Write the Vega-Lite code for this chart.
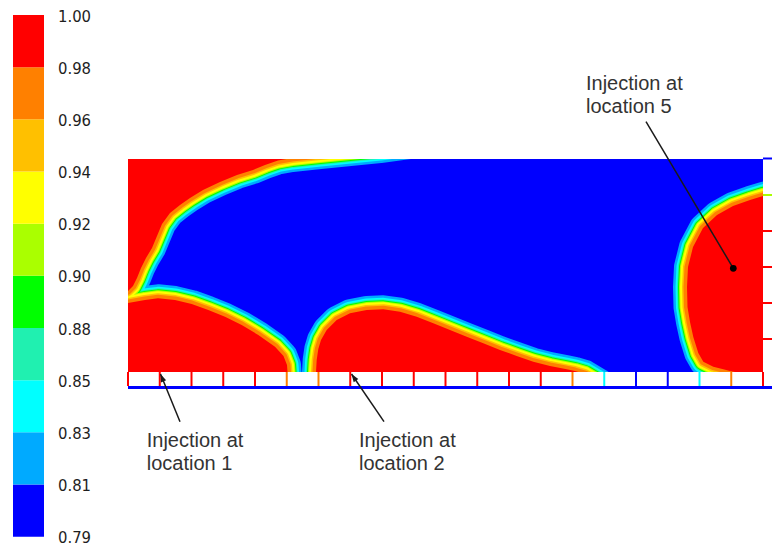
{
  "$schema": "https://vega.github.io/schema/vega-lite/v6.json",
  "padding": 0,
  "background": "white",
  "config": {"view": {"stroke": null}},
  "bounds": "flush",
  "center": true,
  "spacing": 0,
  "datasets": {
    "bands": [
      {"lo": 0, "hi": 1, "v": 0.80},
      {"lo": 1, "hi": 2, "v": 0.82},
      {"lo": 2, "hi": 3, "v": 0.84},
      {"lo": 3, "hi": 4, "v": 0.865},
      {"lo": 4, "hi": 5, "v": 0.89},
      {"lo": 5, "hi": 6, "v": 0.91},
      {"lo": 6, "hi": 7, "v": 0.93},
      {"lo": 7, "hi": 8, "v": 0.95},
      {"lo": 8, "hi": 9, "v": 0.97},
      {"lo": 9, "hi": 10, "v": 0.99}
    ],
    "labels": [
      {"i": 0, "label": "0.79"},
      {"i": 1, "label": "0.81"},
      {"i": 2, "label": "0.83"},
      {"i": 3, "label": "0.85"},
      {"i": 4, "label": "0.88"},
      {"i": 5, "label": "0.90"},
      {"i": 6, "label": "0.92"},
      {"i": 7, "label": "0.94"},
      {"i": 8, "label": "0.96"},
      {"i": 9, "label": "0.98"},
      {"i": 10, "label": "1.00"}
    ],
    "bnd": [
      {"r": "T", "i": 0, "x": -2, "y": 80},
      {"r": "T", "i": 1, "x": 0, "y": 81},
      {"r": "T", "i": 2, "x": 5, "y": 86},
      {"r": "T", "i": 3, "x": 9, "y": 94},
      {"r": "T", "i": 4, "x": 13, "y": 104},
      {"r": "T", "i": 5, "x": 18, "y": 114},
      {"r": "T", "i": 6, "x": 24, "y": 124},
      {"r": "T", "i": 7, "x": 29, "y": 136},
      {"r": "T", "i": 8, "x": 34, "y": 148},
      {"r": "T", "i": 9, "x": 42, "y": 159},
      {"r": "T", "i": 10, "x": 52, "y": 167},
      {"r": "T", "i": 11, "x": 62, "y": 174},
      {"r": "T", "i": 12, "x": 75, "y": 182},
      {"r": "T", "i": 13, "x": 92, "y": 190},
      {"r": "T", "i": 14, "x": 109, "y": 197},
      {"r": "T", "i": 15, "x": 125, "y": 202},
      {"r": "T", "i": 16, "x": 137, "y": 207},
      {"r": "T", "i": 17, "x": 150, "y": 211.5},
      {"r": "T", "i": 18, "x": 164, "y": 214},
      {"r": "T", "i": 19, "x": 192, "y": 217},
      {"r": "T", "i": 20, "x": 222, "y": 220},
      {"r": "T", "i": 21, "x": 252, "y": 223},
      {"r": "T", "i": 22, "x": 282, "y": 227},
      {"r": "T", "i": 23, "x": 312, "y": 232},
      {"r": "B1", "i": 0, "x": -2, "y": 69},
      {"r": "B1", "i": 1, "x": 0, "y": 69},
      {"r": "B1", "i": 2, "x": 17, "y": 72},
      {"r": "B1", "i": 3, "x": 30, "y": 73.7},
      {"r": "B1", "i": 4, "x": 47, "y": 72},
      {"r": "B1", "i": 5, "x": 63.7, "y": 68},
      {"r": "B1", "i": 6, "x": 80.3, "y": 62},
      {"r": "B1", "i": 7, "x": 97, "y": 55.3},
      {"r": "B1", "i": 8, "x": 113.7, "y": 47},
      {"r": "B1", "i": 9, "x": 130.3, "y": 37},
      {"r": "B1", "i": 10, "x": 147, "y": 25.3},
      {"r": "B1", "i": 11, "x": 155.5, "y": 16},
      {"r": "B1", "i": 12, "x": 159, "y": 7},
      {"r": "B1", "i": 13, "x": 159.5, "y": 0},
      {"r": "B1", "i": 14, "x": 160, "y": -8},
      {"r": "B2", "i": 0, "x": 187.5, "y": -8},
      {"r": "B2", "i": 1, "x": 188, "y": 0},
      {"r": "B2", "i": 2, "x": 188.7, "y": 12},
      {"r": "B2", "i": 3, "x": 190.3, "y": 23},
      {"r": "B2", "i": 4, "x": 193, "y": 32},
      {"r": "B2", "i": 5, "x": 198.7, "y": 42},
      {"r": "B2", "i": 6, "x": 208.7, "y": 52},
      {"r": "B2", "i": 7, "x": 222, "y": 58.7},
      {"r": "B2", "i": 8, "x": 238.7, "y": 62},
      {"r": "B2", "i": 9, "x": 255.3, "y": 62.7},
      {"r": "B2", "i": 10, "x": 272, "y": 60.3},
      {"r": "B2", "i": 11, "x": 288.7, "y": 55.3},
      {"r": "B2", "i": 12, "x": 305.3, "y": 48.7},
      {"r": "B2", "i": 13, "x": 322, "y": 42},
      {"r": "B2", "i": 14, "x": 338.7, "y": 35.3},
      {"r": "B2", "i": 15, "x": 355.3, "y": 28.7},
      {"r": "B2", "i": 16, "x": 372, "y": 22},
      {"r": "B2", "i": 17, "x": 388.7, "y": 16},
      {"r": "B2", "i": 18, "x": 405.3, "y": 10.3},
      {"r": "B2", "i": 19, "x": 422, "y": 6},
      {"r": "B2", "i": 20, "x": 438.7, "y": 2.7},
      {"r": "B2", "i": 21, "x": 447, "y": 1},
      {"r": "B2", "i": 22, "x": 457, "y": -2},
      {"r": "B2", "i": 23, "x": 472, "y": -11},
      {"r": "B2", "i": 24, "x": 482, "y": -20},
      {"r": "R", "i": 0, "x": 642, "y": 178},
      {"r": "R", "i": 1, "x": 635, "y": 176},
      {"r": "R", "i": 2, "x": 622, "y": 172},
      {"r": "R", "i": 3, "x": 605, "y": 166},
      {"r": "R", "i": 4, "x": 589, "y": 157},
      {"r": "R", "i": 5, "x": 575, "y": 144},
      {"r": "R", "i": 6, "x": 565, "y": 125},
      {"r": "R", "i": 7, "x": 560, "y": 105},
      {"r": "R", "i": 8, "x": 559, "y": 85},
      {"r": "R", "i": 9, "x": 559.5, "y": 65},
      {"r": "R", "i": 10, "x": 562, "y": 50},
      {"r": "R", "i": 11, "x": 565.3, "y": 35},
      {"r": "R", "i": 12, "x": 570.3, "y": 19},
      {"r": "R", "i": 13, "x": 575.3, "y": 10.3},
      {"r": "R", "i": 14, "x": 585.3, "y": 5.3},
      {"r": "R", "i": 15, "x": 595.3, "y": 2.7},
      {"r": "R", "i": 16, "x": 602, "y": 1},
      {"r": "R", "i": 17, "x": 617, "y": -2},
      {"r": "R", "i": 18, "x": 642, "y": -6}
    ],
    "sep": [
      {"x": 0, "v": 1.0},
      {"x": 31.75, "v": 1.0},
      {"x": 63.5, "v": 1.0},
      {"x": 95.25, "v": 1.0},
      {"x": 127, "v": 1.0},
      {"x": 158.75, "v": 0.97},
      {"x": 190.5, "v": 0.97},
      {"x": 222.25, "v": 1.0},
      {"x": 254, "v": 1.0},
      {"x": 285.75, "v": 1.0},
      {"x": 317.5, "v": 1.0},
      {"x": 349.25, "v": 1.0},
      {"x": 381, "v": 1.0},
      {"x": 412.75, "v": 1.0},
      {"x": 444.5, "v": 0.97},
      {"x": 476.25, "v": 0.84},
      {"x": 508, "v": 0.80},
      {"x": 539.75, "v": 0.80},
      {"x": 571.5, "v": 0.84},
      {"x": 603.25, "v": 0.97},
      {"x": 635, "v": 1.0}
    ],
    "wallticks": [
      {"y": 177, "v": 0.91},
      {"y": 141, "v": 1.0},
      {"y": 105, "v": 1.0},
      {"y": 69, "v": 1.0},
      {"y": 33, "v": 1.0}
    ],
    "arrows": [
      {"id": 1, "x": 52, "y": -49.7, "x2": 32.5, "y2": -2},
      {"id": 2, "x": 256, "y": -49.7, "x2": 223.5, "y2": -2},
      {"id": 5, "x": 518, "y": 250.3, "x2": 605.3, "y2": 103.7}
    ],
    "notes": [
      {"t": "Injection at\nlocation 5", "x": 458, "y": 282},
      {"t": "Injection at\nlocation 1", "x": 18.7, "y": -74.7},
      {"t": "Injection at\nlocation 2", "x": 231, "y": -74.7}
    ]
  },
  "hconcat": [
    {
      "width": 128,
      "height": 531,
      "layer": [
        {
          "data": {"name": "bands"},
          "mark": {"type": "rect"},
          "encoding": {
            "x": {"datum": 13, "type": "quantitative", "scale": {"domain": [0, 128], "nice": false, "zero": false}, "axis": null},
            "x2": {"datum": 44},
            "y": {"field": "lo", "type": "quantitative", "scale": {"domain": [0.109, 10.288], "nice": false, "zero": false}, "axis": null},
            "y2": {"field": "hi"},
            "color": {"field": "v", "type": "quantitative", "legend": null,
              "scale": {"type": "threshold", "domain": [0.81, 0.83, 0.85, 0.88, 0.9, 0.92, 0.94, 0.96, 0.98],
                "range": ["#0000FF", "#00AAFF", "#00FFFF", "#20F0B0", "#00FF00", "#AAFF00", "#FFFF00", "#FFC000", "#FF8000", "#FF0000"]}}
          }
        },
        {
          "data": {"name": "labels"},
          "mark": {"type": "text", "align": "left", "baseline": "middle", "dy": 1.5, "font": "DejaVu Sans Condensed", "fontSize": 16.5, "fill": "#1e1e1e"},
          "encoding": {
            "x": {"datum": 58, "type": "quantitative", "scale": {"domain": [0, 128], "nice": false, "zero": false}, "axis": null},
            "y": {"field": "i", "type": "quantitative", "scale": {"domain": [0.109, 10.288], "nice": false, "zero": false}, "axis": null},
            "text": {"field": "label"}
          }
        }
      ]
    },
    {
      "width": 635,
      "height": 213,
      "view": {"fill": "#0000FF", "stroke": null},
      "layer": [
        {"data": {"name": "bnd"}, "mark": {"type": "line", "color": "#00AAFF", "strokeWidth": 28, "strokeJoin": "round", "clip": true},
         "encoding": {"x": {"field": "x", "type": "quantitative", "scale": {"domain": [0, 635], "nice": false, "zero": false}, "axis": null},
           "y": {"field": "y", "type": "quantitative", "scale": {"domain": [0, 213], "nice": false, "zero": false}, "axis": null},
           "detail": {"field": "r"}, "order": {"field": "i", "type": "quantitative"}}},
        {"data": {"name": "bnd"}, "mark": {"type": "line", "color": "#00FFFF", "strokeWidth": 23, "strokeJoin": "round", "clip": true},
         "encoding": {"x": {"field": "x", "type": "quantitative", "scale": {"domain": [0, 635], "nice": false, "zero": false}, "axis": null},
           "y": {"field": "y", "type": "quantitative", "scale": {"domain": [0, 213], "nice": false, "zero": false}, "axis": null},
           "detail": {"field": "r"}, "order": {"field": "i", "type": "quantitative"}}},
        {"data": {"name": "bnd"}, "mark": {"type": "line", "color": "#20F0B0", "strokeWidth": 20, "strokeJoin": "round", "clip": true},
         "encoding": {"x": {"field": "x", "type": "quantitative", "scale": {"domain": [0, 635], "nice": false, "zero": false}, "axis": null},
           "y": {"field": "y", "type": "quantitative", "scale": {"domain": [0, 213], "nice": false, "zero": false}, "axis": null},
           "detail": {"field": "r"}, "order": {"field": "i", "type": "quantitative"}}},
        {"data": {"name": "bnd"}, "mark": {"type": "line", "color": "#00FF00", "strokeWidth": 18, "strokeJoin": "round", "clip": true},
         "encoding": {"x": {"field": "x", "type": "quantitative", "scale": {"domain": [0, 635], "nice": false, "zero": false}, "axis": null},
           "y": {"field": "y", "type": "quantitative", "scale": {"domain": [0, 213], "nice": false, "zero": false}, "axis": null},
           "detail": {"field": "r"}, "order": {"field": "i", "type": "quantitative"}}},
        {"data": {"name": "bnd"}, "mark": {"type": "line", "color": "#AAFF00", "strokeWidth": 16, "strokeJoin": "round", "clip": true},
         "encoding": {"x": {"field": "x", "type": "quantitative", "scale": {"domain": [0, 635], "nice": false, "zero": false}, "axis": null},
           "y": {"field": "y", "type": "quantitative", "scale": {"domain": [0, 213], "nice": false, "zero": false}, "axis": null},
           "detail": {"field": "r"}, "order": {"field": "i", "type": "quantitative"}}},
        {"data": {"name": "bnd"}, "mark": {"type": "line", "color": "#FFFF00", "strokeWidth": 14, "strokeJoin": "round", "clip": true},
         "encoding": {"x": {"field": "x", "type": "quantitative", "scale": {"domain": [0, 635], "nice": false, "zero": false}, "axis": null},
           "y": {"field": "y", "type": "quantitative", "scale": {"domain": [0, 213], "nice": false, "zero": false}, "axis": null},
           "detail": {"field": "r"}, "order": {"field": "i", "type": "quantitative"}}},
        {"data": {"name": "bnd"}, "mark": {"type": "line", "color": "#FFC000", "strokeWidth": 10, "strokeJoin": "round", "clip": true},
         "encoding": {"x": {"field": "x", "type": "quantitative", "scale": {"domain": [0, 635], "nice": false, "zero": false}, "axis": null},
           "y": {"field": "y", "type": "quantitative", "scale": {"domain": [0, 213], "nice": false, "zero": false}, "axis": null},
           "detail": {"field": "r"}, "order": {"field": "i", "type": "quantitative"}}},
        {"data": {"name": "bnd"}, "mark": {"type": "line", "color": "#FF8000", "strokeWidth": 7, "strokeJoin": "round", "clip": true},
         "encoding": {"x": {"field": "x", "type": "quantitative", "scale": {"domain": [0, 635], "nice": false, "zero": false}, "axis": null},
           "y": {"field": "y", "type": "quantitative", "scale": {"domain": [0, 213], "nice": false, "zero": false}, "axis": null},
           "detail": {"field": "r"}, "order": {"field": "i", "type": "quantitative"}}},
        {"data": {"name": "bnd"}, "transform": [{"filter": "datum.r === 'T'"}],
         "mark": {"type": "area", "color": "#FF0000", "clip": true},
         "encoding": {"x": {"field": "x", "type": "quantitative", "scale": {"domain": [0, 635], "nice": false, "zero": false}, "axis": null},
           "y": {"field": "y", "type": "quantitative", "scale": {"domain": [0, 213], "nice": false, "zero": false}, "axis": null},
           "y2": {"datum": 213}}},
        {"data": {"name": "bnd"}, "transform": [{"filter": "datum.r === 'B1' || datum.r === 'B2'"}],
         "mark": {"type": "area", "color": "#FF0000", "clip": true},
         "encoding": {"x": {"field": "x", "type": "quantitative", "scale": {"domain": [0, 635], "nice": false, "zero": false}, "axis": null},
           "y": {"field": "y", "type": "quantitative", "scale": {"domain": [0, 213], "nice": false, "zero": false}, "axis": null},
           "y2": {"datum": 0}, "detail": {"field": "r"}}},
        {"data": {"name": "bnd"}, "transform": [{"filter": "datum.r === 'R'"}],
         "mark": {"type": "area", "orient": "horizontal", "color": "#FF0000", "clip": true},
         "encoding": {"x": {"field": "x", "type": "quantitative", "scale": {"domain": [0, 635], "nice": false, "zero": false}, "axis": null},
           "x2": {"datum": 635},
           "y": {"field": "y", "type": "quantitative", "scale": {"domain": [0, 213], "nice": false, "zero": false}, "axis": null}}},
        {"data": {"name": "sep"}, "mark": {"type": "rule", "strokeWidth": 2},
         "encoding": {"x": {"field": "x", "type": "quantitative", "scale": {"domain": [0, 635], "nice": false, "zero": false}, "axis": null},
           "y": {"datum": 0, "type": "quantitative", "scale": {"domain": [0, 213], "nice": false, "zero": false}, "axis": null},
           "y2": {"datum": -14},
           "color": {"field": "v", "type": "quantitative", "legend": null,
             "scale": {"type": "threshold", "domain": [0.81, 0.83, 0.85, 0.88, 0.9, 0.92, 0.94, 0.96, 0.98],
               "range": ["#0000FF", "#00AAFF", "#00FFFF", "#20F0B0", "#00FF00", "#AAFF00", "#FFFF00", "#FFC000", "#FF8000", "#FF0000"]}}}},
        {"data": {"values": [{}]}, "mark": {"type": "rule", "color": "#0000FF", "strokeWidth": 3},
         "encoding": {"x": {"datum": 0, "type": "quantitative", "scale": {"domain": [0, 635], "nice": false, "zero": false}, "axis": null},
           "x2": {"datum": 644},
           "y": {"datum": -15.5, "type": "quantitative", "scale": {"domain": [0, 213], "nice": false, "zero": false}, "axis": null}}},
        {"data": {"values": [{}]}, "mark": {"type": "rule", "color": "#0000FF", "strokeWidth": 2},
         "encoding": {"x": {"datum": 635, "type": "quantitative", "scale": {"domain": [0, 635], "nice": false, "zero": false}, "axis": null},
           "x2": {"datum": 644},
           "y": {"datum": 213.5, "type": "quantitative", "scale": {"domain": [0, 213], "nice": false, "zero": false}, "axis": null}}},
        {"data": {"name": "wallticks"}, "mark": {"type": "rule", "strokeWidth": 2},
         "encoding": {"x": {"datum": 635, "type": "quantitative", "scale": {"domain": [0, 635], "nice": false, "zero": false}, "axis": null},
           "x2": {"datum": 644},
           "y": {"field": "y", "type": "quantitative", "scale": {"domain": [0, 213], "nice": false, "zero": false}, "axis": null},
           "color": {"field": "v", "type": "quantitative", "legend": null,
             "scale": {"type": "threshold", "domain": [0.81, 0.83, 0.85, 0.88, 0.9, 0.92, 0.94, 0.96, 0.98],
               "range": ["#0000FF", "#00AAFF", "#00FFFF", "#20F0B0", "#00FF00", "#AAFF00", "#FFFF00", "#FFC000", "#FF8000", "#FF0000"]}}}},
        {"data": {"name": "arrows"}, "mark": {"type": "rule", "color": "#1a1a1a", "strokeWidth": 1.5},
         "encoding": {"x": {"field": "x", "type": "quantitative", "scale": {"domain": [0, 635], "nice": false, "zero": false}, "axis": null},
           "y": {"field": "y", "type": "quantitative", "scale": {"domain": [0, 213], "nice": false, "zero": false}, "axis": null},
           "x2": {"field": "x2"}, "y2": {"field": "y2"}}},
        {"data": {"name": "arrows"}, "transform": [{"filter": "datum.id === 1"}],
         "mark": {"type": "point", "shape": "M0,0L0.35,1L-0.35,1Z", "filled": true, "color": "#1a1a1a", "opacity": 1, "size": 256, "angle": 337.8},
         "encoding": {"x": {"field": "x2", "type": "quantitative", "scale": {"domain": [0, 635], "nice": false, "zero": false}, "axis": null},
           "y": {"field": "y2", "type": "quantitative", "scale": {"domain": [0, 213], "nice": false, "zero": false}, "axis": null}}},
        {"data": {"name": "arrows"}, "transform": [{"filter": "datum.id === 2"}],
         "mark": {"type": "point", "shape": "M0,0L0.35,1L-0.35,1Z", "filled": true, "color": "#1a1a1a", "opacity": 1, "size": 256, "angle": 325.7},
         "encoding": {"x": {"field": "x2", "type": "quantitative", "scale": {"domain": [0, 635], "nice": false, "zero": false}, "axis": null},
           "y": {"field": "y2", "type": "quantitative", "scale": {"domain": [0, 213], "nice": false, "zero": false}, "axis": null}}},
        {"data": {"name": "arrows"}, "transform": [{"filter": "datum.id === 5"}],
         "mark": {"type": "point", "shape": "circle", "filled": true, "color": "#000000", "opacity": 1, "size": 45},
         "encoding": {"x": {"field": "x2", "type": "quantitative", "scale": {"domain": [0, 635], "nice": false, "zero": false}, "axis": null},
           "y": {"field": "y2", "type": "quantitative", "scale": {"domain": [0, 213], "nice": false, "zero": false}, "axis": null}}},
        {"data": {"name": "notes"},
         "mark": {"type": "text", "align": "left", "baseline": "alphabetic", "font": "Liberation Sans", "fontSize": 20, "lineHeight": 23, "lineBreak": "\n", "color": "#333333"},
         "encoding": {"x": {"field": "x", "type": "quantitative", "scale": {"domain": [0, 635], "nice": false, "zero": false}, "axis": null},
           "y": {"field": "y", "type": "quantitative", "scale": {"domain": [0, 213], "nice": false, "zero": false}, "axis": null},
           "text": {"field": "t"}}}
      ]
    }
  ]
}
